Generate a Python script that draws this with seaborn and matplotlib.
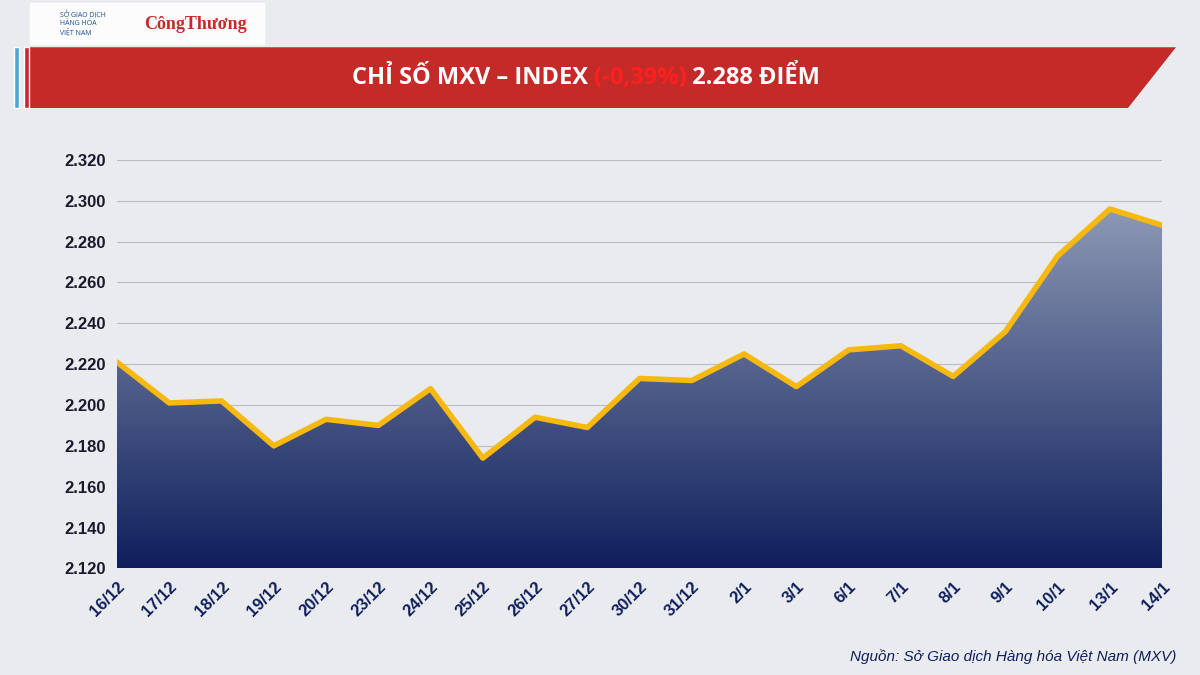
import numpy as np
import pandas as pd
import matplotlib
matplotlib.use("Agg")
import matplotlib.pyplot as plt
import seaborn as sns
from matplotlib.patches import Polygon, Rectangle

dates = ["16/12","17/12","18/12","19/12","20/12","23/12","24/12","25/12","26/12","27/12",
         "30/12","31/12","2/1","3/1","6/1","7/1","8/1","9/1","10/1","13/1","14/1"]
values = [2221,2201,2202,2180,2193,2190,2208,2174,2194,2189,
          2213,2212,2225,2209,2227,2229,2214,2236,2273,2296,2288]
yticks = [2120,2140,2160,2180,2200,2220,2240,2260,2280,2300,2320]

sns.set_style("white")
plt.rcParams['font.family'] = ['Open Sans', 'DejaVu Sans']

fig = plt.figure(figsize=(12, 6.75), dpi=100)
fig.patch.set_facecolor("#e9ebee")

# banner
fig.patches.append(Polygon([[0.025,0.84],[0.025,0.93],[0.98,0.93],[0.94,0.84]], closed=True,
                           transform=fig.transFigure, facecolor="#c42a28", edgecolor="none"))
fig.patches.append(Rectangle((0.012,0.84),0.004,0.09, transform=fig.transFigure, facecolor="#4aa8d8"))
fig.patches.append(Rectangle((0.02,0.84),0.004,0.09, transform=fig.transFigure, facecolor="#c42a28"))
t1 = fig.text(0.293,0.885,"CHỈ SỐ MXV – INDEX ", color="white", fontsize=17, fontweight="bold", va="center")
t2 = fig.text(0,0,"(-0,39%)", color="#ff2020", fontsize=17, fontweight="bold", va="center")
t3 = fig.text(0,0," 2.288 ĐIỂM", color="white", fontsize=17, fontweight="bold", va="center")
fig.canvas.draw()
r = fig.canvas.get_renderer()
bb = t1.get_window_extent(r)
t2.set_position(fig.transFigure.inverted().transform((bb.x1, 0)) * [1, 0] + [0, 0.885])
bb2 = t2.get_window_extent(r)
t3.set_position(fig.transFigure.inverted().transform((bb2.x1, 0)) * [1, 0] + [0, 0.885])

fig.patches.append(Rectangle((0.025,0.935),0.195,0.06, transform=fig.transFigure, facecolor="white", alpha=0.9))
fig.text(0.05,0.965,"SỞ GIAO DỊCH\nHÀNG HÓA\nVIỆT NAM", fontsize=5, color="#1b4f8f", va="center")
fig.text(0.12,0.963,"CôngThương", fontsize=13, color="#c42a28", va="center", family="Liberation Serif", fontweight="bold")

ax = fig.add_axes([0.0975, 0.158, 0.871, 0.605])
ax.set_facecolor("none")
df = pd.DataFrame({"x": np.arange(len(dates)), "y": values})
ymin = 2120
grad = np.linspace(0, 1, 256).reshape(-1, 1)
cmap = matplotlib.colors.LinearSegmentedColormap.from_list("g", ["#0f1f5c", "#8f9bb6"])
im = ax.imshow(grad, aspect="auto", cmap=cmap, origin="lower",
               extent=[0, len(dates)-1, ymin, 2300], zorder=1)
poly = Polygon(np.column_stack([np.r_[df.x, df.x.iloc[-1], 0], np.r_[df.y, ymin, ymin]]),
               closed=True, transform=ax.transData, facecolor="none", edgecolor="none")
ax.add_patch(poly)
im.set_clip_path(poly)
sns.lineplot(data=df, x="x", y="y", ax=ax, color="#f7b80f", linewidth=4, zorder=3)
ax.set_xlim(0, len(dates)-1)
ax.set_ylim(ymin, 2320)
ax.set_yticks(yticks)
ax.set_yticklabels([f"{v/1000:.3f}" for v in yticks], fontsize=12, fontweight="bold",
                   color="#1a1a2e", family="Liberation Sans")
ax.set_xticks(df.x)
ax.set_xticklabels(dates, rotation=45, ha="right", rotation_mode="anchor", fontsize=12,
                   fontweight="bold", color="#0f1f5c", family="Liberation Sans")
ax.tick_params(length=0, pad=8)
ax.grid(axis="y", color="#b8bcc4", linewidth=0.8, zorder=0)
ax.set_axisbelow(True)
ax.set_xlabel(""); ax.set_ylabel("")
for s in ax.spines.values():
    s.set_visible(False)
fig.text(0.98, 0.02, "Nguồn: Sở Giao dịch Hàng hóa Việt Nam (MXV)", ha="right", fontsize=11,
         style="italic", color="#0f1f5c", family="Liberation Sans")
fig.savefig("out.png", dpi=100)
